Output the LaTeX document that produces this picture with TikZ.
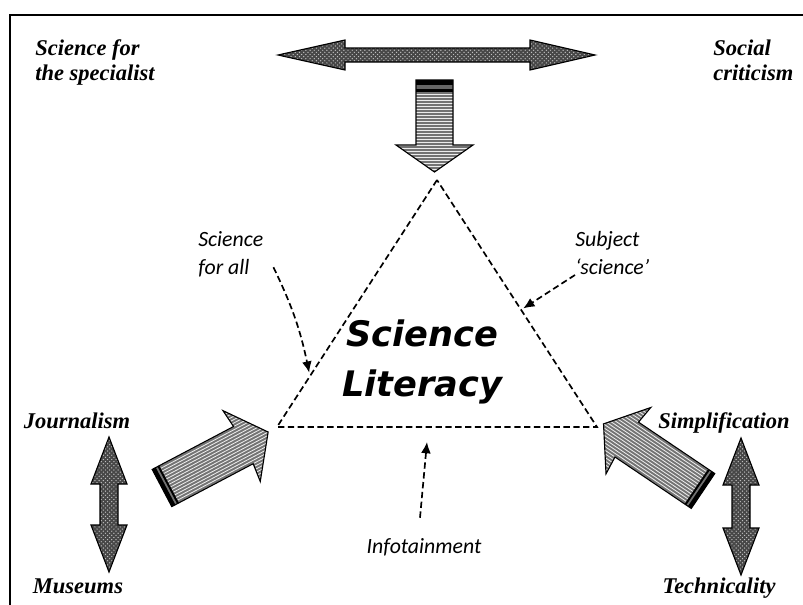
\documentclass[tikz,border=0pt]{standalone}
\usepackage{fontspec}
\setmainfont{Liberation Serif}
\newfontfamily\notefont{Carlito}
\newfontfamily\titlefont{DejaVu Sans}
\usetikzlibrary{arrows.meta,patterns,calc}

\begin{document}
\begin{tikzpicture}[x=0.025cm,y=-0.025cm,
	corner/.style={font=\fontsize{16}{17.8}\selectfont\bfseries\itshape, inner sep=0pt},
	note/.style={font=\notefont\fontsize{15.5}{20}\selectfont\itshape, inner sep=0pt, align=left},
	tri/.style={dash pattern=on 4.5pt off 2.5pt, line width=1.2pt},
	pointer/.style={tri, -{Latex[length=8pt,width=7pt]}},
	dotarrow/.style={draw=black, line width=0.8pt, preaction={fill=black!72}, pattern=crosshatch dots, pattern color=white!75!black}]
\useasboundingbox (0,0) rectangle (803,605);

% border
\draw[line width=1.8pt] (10,605) -- (10,15) -- (803,15);

% triangle
\coordinate (apex) at (437,180);
\coordinate (bl) at (277,427);
\coordinate (br) at (597,427);
\draw[tri] (apex) -- (bl) -- (br) -- cycle;
\node[font=\titlefont\fontsize{25}{35.6}\selectfont\bfseries\itshape, align=center, inner sep=0pt] (lit) at (422,362) {Science\\Literacy};

% labels on the sides
\node[note, anchor=north west] (forall) at (198,231) {Science\\for all};
\node[note, anchor=north west] (subj) at (575,231) {Subject\\‘science’};
\node[note, anchor=base] (info) at (424,553) {Infotainment};

\coordinate (pl) at ($(apex)!0.78!(bl)+(-3,0)$);
\coordinate (pr) at ($(apex)!0.52!(br)+(3,0)$);
\coordinate (pb) at (427,442);
\draw[pointer] ([shift={(10,-10)}]forall.south east) to[bend left=7] (pl);
\draw[pointer] (subj.south west) -- (pr);
\draw[pointer] ([shift={(-4,-20)}]info.north) -- (pb);

% corner labels
\node[corner, align=left, anchor=west] (spec) at (35,62) {Science for\\the specialist};
\node[corner, align=left, anchor=west] (soc) at (713,60) {Social\\criticism};
\node[corner, anchor=base] (jour) at (77,428) {Journalism};
\node[corner, anchor=base] (mus) at (78,593) {Museums};
\node[corner, anchor=base] (simp) at (724,428) {Simplification};
\node[corner, anchor=base] (tech) at (719,593) {Technicality};

% double arrows
\filldraw[dotarrow] (278,55) -- (345,40) -- (345,48) -- (530,48) -- (530,40) -- (595,55)
	-- (530,70) -- (530,62) -- (345,62) -- (345,70) -- cycle;
\foreach \x/\ya/\yb in {109/437/572, 741/438/575} {
	\filldraw[dotarrow] (\x,\ya) -- (\x+18,\ya+47) -- (\x+9,\ya+47) -- (\x+9,\yb-47) -- (\x+18,\yb-47)
		-- (\x,\yb) -- (\x-18,\yb-47) -- (\x-9,\yb-47) -- (\x-9,\ya+47) -- (\x-18,\ya+47) -- cycle;
}

% down arrow
\fill[black!55] (416,80) -- (453,80) -- (453,145) -- (473,145) -- (434.5,172) -- (396,145) -- (416,145) -- cycle;
\begin{scope}
	\clip (416,80) -- (453,80) -- (453,145) -- (473,145) -- (434.5,172) -- (396,145) -- (416,145) -- cycle;
	\foreach \s in {94,97,...,172} {
		\draw[white!85!gray, line width=0.6pt] (390,\s) -- (480,\s);
	}
\end{scope}
\fill (416,80) rectangle (453,85);
\fill[black!60] (416,85) rectangle (453,89);
\fill (416,89) rectangle (453,92);
\draw[line width=0.8pt] (416,80) -- (453,80) -- (453,145) -- (473,145) -- (434.5,172) -- (396,145) -- (416,145) -- cycle;

% block arrows into the triangle
\foreach \x/\y/\a in {162/488/27.8, 703/491/146} {
	\begin{scope}[shift={(\x,\y)}, rotate=\a]
		\fill[black!55] (0,-21) -- (92,-21) -- (90,-40) -- (120,0) -- (90,40) -- (92,21) -- (0,21) -- cycle;
		\begin{scope}
			\clip (0,-21) -- (92,-21) -- (90,-40) -- (120,0) -- (90,40) -- (92,21) -- (0,21) -- cycle;
			\foreach \s in {-39,-36,...,39} {
				\draw[white!85!gray, line width=0.6pt] (8,\s) -- (125,\s);
			}
		\end{scope}
		\fill (0,-21) rectangle (4,21);
		\fill (6,-21) rectangle (8,21);
		\draw[line width=0.8pt] (0,-21) -- (92,-21) -- (90,-40) -- (120,0) -- (90,40) -- (92,21) -- (0,21) -- cycle;
	\end{scope}
}

\end{tikzpicture}
\end{document}
